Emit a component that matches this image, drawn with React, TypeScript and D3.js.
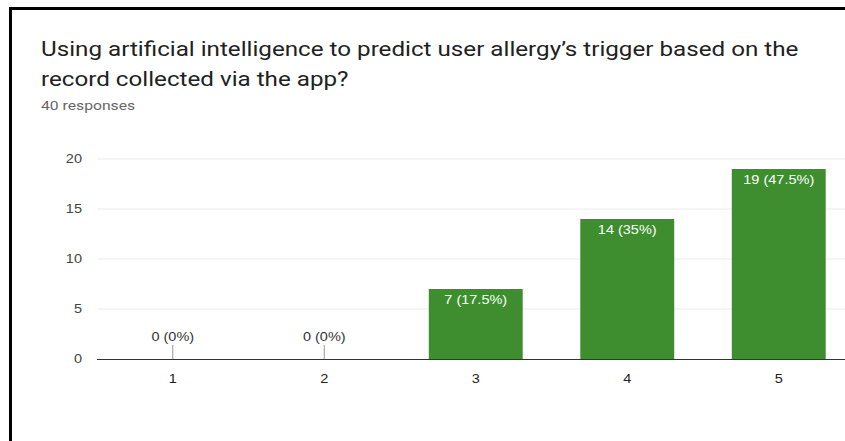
import React from "react";
import * as d3 from "d3";

const categories = ["1", "2", "3", "4", "5"];
const counts = [0, 0, 7, 14, 19];
const valueLabels = ["0 (0%)", "0 (0%)", "7 (17.5%)", "14 (35%)", "19 (47.5%)"];
const yTicks = [0, 5, 10, 15, 20];
const titleLines = [
  "Using artificial intelligence to predict user allergy\u2019s trigger based on the",
  "record collected via the app?",
];
const subtitle = "40 responses";

const SX = 1.21;

function T(props: { x: number; y: number; anchor?: string; size: number; fill: string; family: string; weight?: number; dy?: string; children: React.ReactNode }) {
  return (
    <g transform={`translate(${props.x},${props.y}) scale(${SX},1)`}>
      <text
        x={0}
        y={0}
        dy={props.dy}
        textAnchor={props.anchor || "start"}
        fontFamily={props.family}
        fontSize={props.size}
        fontWeight={props.weight || 400}
        fill={props.fill}
      >
        {props.children}
      </text>
    </g>
  );
}

export default function App() {
  const W = 845;
  const H = 441;
  const left = 97;
  const top = 159;
  const bottom = 359;
  const step = 151.5;
  const right = left + step * categories.length;

  const x = d3.scaleBand<string>().domain(categories).range([left, right]).paddingInner(0.38).paddingOuter(0.19);
  const y = d3.scaleLinear().domain([0, 20]).range([bottom, top]);

  const green = "#3e8e2f";
  const font = "'Liberation Sans', Arial, sans-serif";
  const roboto = "Roboto, sans-serif";

  return (
    <svg width={W} height={H} style={{ position: "absolute", left: 0, top: 0, background: "#fff" }}>
      <rect x={0} y={0} width={W} height={H} fill="#fff" />
      <line x1={9} x2={W} y1={8.5} y2={8.5} stroke="#000" strokeWidth={3} />
      <line x1={10.5} x2={10.5} y1={7} y2={H} stroke="#000" strokeWidth={3} />

      {titleLines.map((t, i) => (
        <T key={i} x={41} y={56 + i * 30} family={roboto} size={20} fill="#212121">
          {t}
        </T>
      ))}
      <T x={41} y={110} family={roboto} size={13} fill="#666">
        {subtitle}
      </T>

      {yTicks.map((t) => (
        <g key={t}>
          {t !== 0 && <line x1={left} x2={right} y1={y(t)} y2={y(t)} stroke="#ebebeb" strokeWidth={1} />}
          <T x={82} y={y(t)} dy="0.35em" anchor="end" family={font} size={12} fill="#444">
            {t}
          </T>
        </g>
      ))}

      {categories.map((c, i) => {
        const bx = x(c)!;
        const bw = x.bandwidth();
        const cx = bx + bw / 2;
        if (counts[i] === 0) {
          return (
            <g key={c}>
              <line x1={cx} x2={cx} y1={bottom - 14} y2={bottom} stroke="#999" strokeWidth={1} />
              <T x={cx} y={bottom - 18} anchor="middle" family={font} size={12} fill="#333">
                {valueLabels[i]}
              </T>
            </g>
          );
        }
        return (
          <g key={c}>
            <rect x={bx} y={y(counts[i])} width={bw} height={bottom - y(counts[i])} fill={green} />
            <T x={cx} y={y(counts[i]) + 15} anchor="middle" family={font} size={12} fill="#fff">
              {valueLabels[i]}
            </T>
          </g>
        );
      })}

      <line x1={left} x2={right} y1={bottom + 0.5} y2={bottom + 0.5} stroke="#333" strokeWidth={1} />
      {categories.map((c) => (
        <T key={c} x={x(c)! + x.bandwidth() / 2} y={383} anchor="middle" family={font} size={12} fill="#222">
          {c}
        </T>
      ))}
    </svg>
  );
}
